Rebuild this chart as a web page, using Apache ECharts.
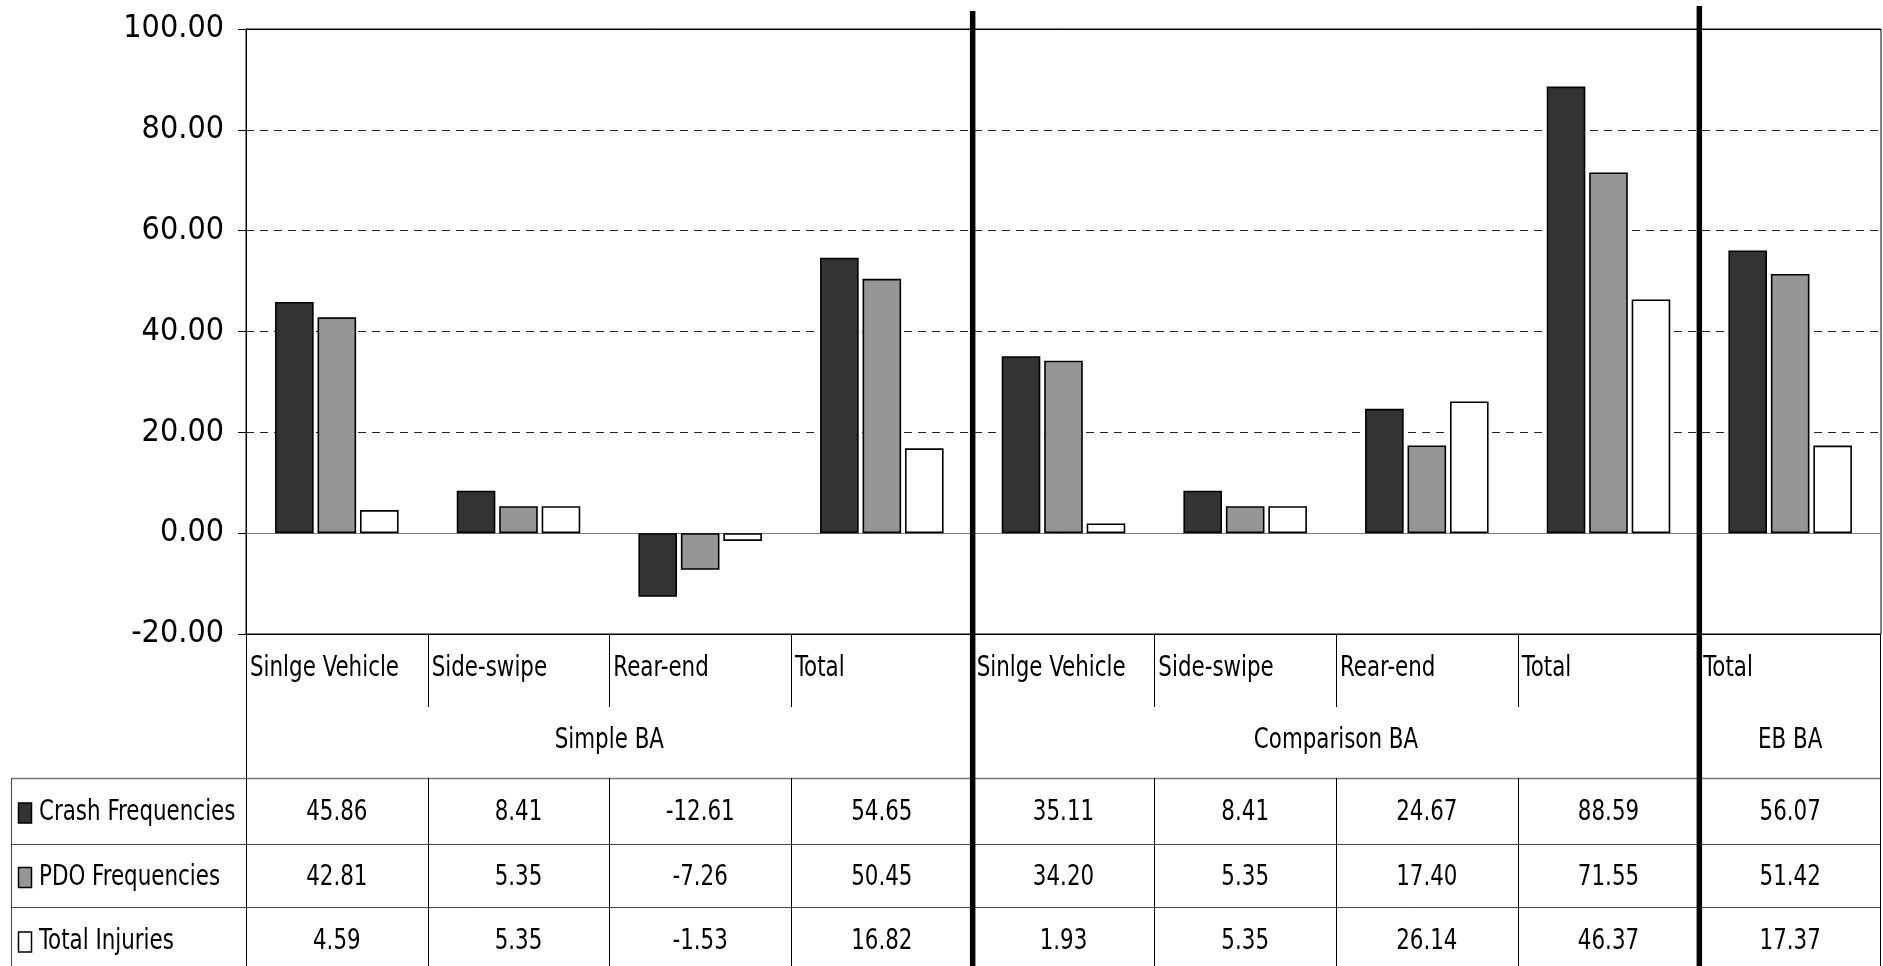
<!DOCTYPE html>
<html><head><meta charset="utf-8">
<script src="https://cdn.jsdelivr.net/npm/echarts@6/dist/echarts.min.js"></script>
<style>html,body{margin:0;padding:0;background:#fff}#c{width:1883px;height:966px}</style>
</head><body><div id="c"></div>
<script>
// ---- data ----
const categories = ['Sinlge Vehicle','Side-swipe','Rear-end','Total','Sinlge Vehicle','Side-swipe','Rear-end','Total','Total'];
const groupNames = ['Simple BA','Comparison BA','EB BA'];
const groupSpans = [4, 4, 1];
const seriesNames = ['Crash Frequencies','PDO Frequencies','Total Injuries'];
const crashFreq = [45.86, 8.41, -12.61, 54.65, 35.11, 8.41, 24.67, 88.59, 56.07];
const pdoFreq   = [42.81, 5.35, -7.26, 50.45, 34.20, 5.35, 17.40, 71.55, 51.42];
const injuries  = [4.59, 5.35, -1.53, 16.82, 1.93, 5.35, 26.14, 46.37, 17.37];
const yMin = -20, yMax = 100, yStep = 20;

// ---- style ----
const FONT = "'DejaVu Sans Condensed','Liberation Sans Narrow','DejaVu Sans',sans-serif";
const colors = ['#333333', '#969696', '#ffffff'];
const seriesData = [crashFreq, pdoFreq, injuries];
const SX = 0.85; // horizontal squeeze of table text

const chart = echarts.init(document.getElementById('c'), null, {renderer: 'canvas'});
chart.setOption({
  animation: false,
  grid: {left: 246, top: 29, right: 2, bottom: 332, show: true, borderColor: '#000', borderWidth: 1},
  xAxis: {
    type: 'category', data: categories,
    axisLabel: {show: false}, axisTick: {show: false},
    axisLine: {onZero: true, lineStyle: {color: '#7a7a7a', width: 1}},
    splitLine: {show: false}
  },
  yAxis: {
    type: 'value', min: yMin, max: yMax, interval: yStep,
    axisLine: {show: true, lineStyle: {color: '#000', width: 1}},
    axisTick: {show: true, length: 8, lineStyle: {color: '#000'}},
    axisLabel: {formatter: v => v.toFixed(2), fontSize: 32, color: '#000', fontFamily: FONT, margin: 22},
    splitLine: {show: true, lineStyle: {type: [8, 6], color: '#222', width: 1}}
  },
  series: seriesNames.map((n, i) => ({
    name: n, type: 'bar', data: seriesData[i],
    barCategoryGap: '32%', barGap: '10%',
    itemStyle: {color: colors[i], borderColor: '#000', borderWidth: 1.6}
  }))
});

// ---- data table (positions derived from the chart's own scales) ----
const yTable = chart.convertToPixel({yAxisIndex: 0}, yMin);
const yTopPlot = chart.convertToPixel({yAxisIndex: 0}, yMax);
const c0 = chart.convertToPixel({xAxisIndex: 0}, 0);
const c1 = chart.convertToPixel({xAxisIndex: 0}, 1);
const cw = c1 - c0;
const bound = i => c0 - cw / 2 + i * cw;
const xLeft = bound(0);
const xRight = bound(categories.length);
const xLegLeft = 11;
const catRowBot = yTable + 73;
const grpRowBot = yTable + 144;
const rowTops = [grpRowBot, grpRowBot + 66, grpRowBot + 129, grpRowBot + 195];
const H = 966;

const g = [];
const line = (x1, y1, x2, y2, stroke, w, z) => g.push({type: 'line', z: z || 50, silent: true,
  shape: {x1, y1, x2, y2}, style: {stroke, lineWidth: w}});
const text = (x, y, t, align, z) => g.push({type: 'text', z: z || 60, silent: true, x, y, scaleX: SX,
  style: {text: t, fontSize: 28, fontFamily: FONT, fill: '#000', align: align, verticalAlign: 'middle'}});

// solid plot frame at top and bottom
line(xLeft - 8, Math.round(yTopPlot) + 0.5, xRight, Math.round(yTopPlot) + 0.5, '#000', 1, 40);
line(xLeft - 8, Math.round(yTable) + 0.5, xRight, Math.round(yTable) + 0.5, '#000', 1.2, 40);

// category row
categories.forEach((c, i) => {
  text(bound(i) + 4, yTable + 35, c, 'left');
  if (i > 0) line(Math.round(bound(i)) + 0.5, yTable, Math.round(bound(i)) + 0.5, catRowBot, '#000', 1);
});
// group row
let gi = 0;
const groupBounds = [0];
groupNames.forEach((gn, k) => {
  const a = bound(gi), b = bound(gi + groupSpans[k]);
  text((a + b) / 2, yTable + 107, gn, 'center');
  gi += groupSpans[k];
  groupBounds.push(gi);
});
// data rows horizontal lines
line(xLegLeft, Math.round(rowTops[0]) + 0.5, xRight, Math.round(rowTops[0]) + 0.5, '#7a7a7a', 1.5);
line(xLegLeft, Math.round(rowTops[1]) + 0.5, xRight, Math.round(rowTops[1]) + 0.5, '#444', 1);
line(xLegLeft, Math.round(rowTops[2]) + 0.5, xRight, Math.round(rowTops[2]) + 0.5, '#444', 1);
// left border of legend column, left axis through table, right border
line(xLegLeft + 0.5, rowTops[0], xLegLeft + 0.5, H, '#444', 1);
line(Math.round(xLeft) + 0.5, yTable, Math.round(xLeft) + 0.5, H, '#000', 1);
line(Math.round(xRight) - 0.5, yTable, Math.round(xRight) - 0.5, H, '#000', 1);
// data row verticals
for (let i = 1; i < categories.length; i++) {
  line(Math.round(bound(i)) + 0.5, rowTops[0], Math.round(bound(i)) + 0.5, H, '#000', 1);
}
// data rows: legend + values
seriesNames.forEach((n, r) => {
  const yc = (rowTops[r] + rowTops[r + 1]) / 2 + 2;
  g.push({type: 'rect', z: 60, silent: true, shape: {x: 18.5, y: yc - 10, width: 13, height: 20},
    style: {fill: colors[r], stroke: '#000', lineWidth: 1.5}});
  text(39, yc, n, 'left');
  seriesData[r].forEach((v, i) => text(bound(i) + cw / 2, yc, v.toFixed(2), 'center'));
});
// thick separators between groups
[groupBounds[1], groupBounds[2]].forEach((gb, k) => {
  const x = bound(gb);
  line(x, k === 0 ? 11 : 6, x, H, '#000', 5.5, 100);
});
chart.setOption({graphic: {elements: g}});
</script>
</body></html>
